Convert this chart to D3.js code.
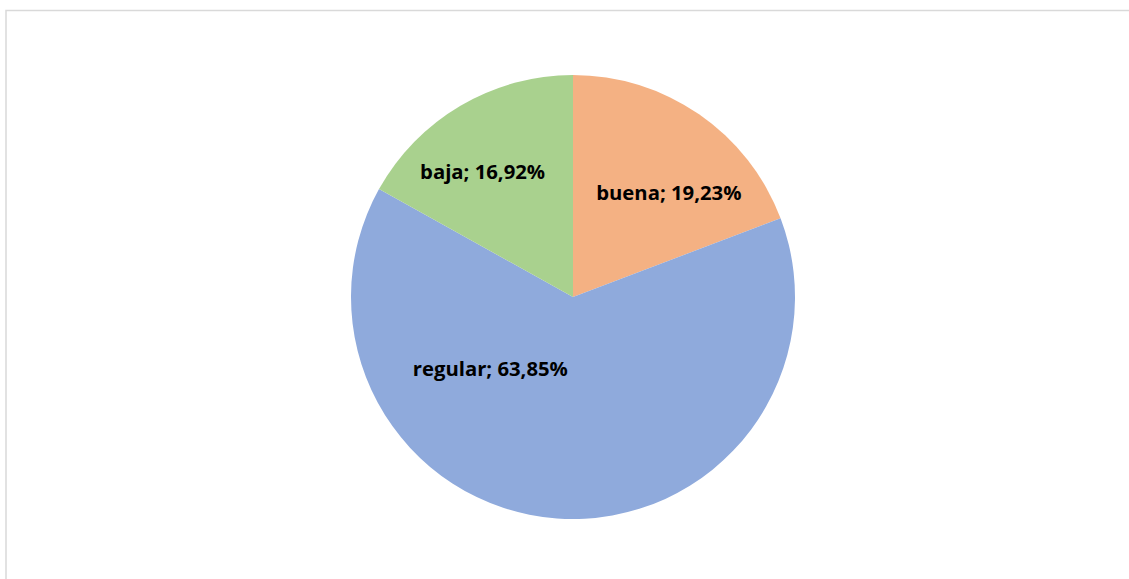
<!DOCTYPE html>
<html><head><meta charset="utf-8">
<script src="https://cdn.jsdelivr.net/npm/d3@7"></script>
<style>html,body{margin:0;padding:0;background:#fff;overflow:hidden}</style>
</head><body>
<svg id="c" width="1129" height="579"></svg>
<script>
const categories = ["buena", "regular", "baja"];
const values = [19.23, 63.85, 16.92];
const colors = ["#F4B183", "#8FAADC", "#A9D18E"];
// label placement (Excel best-fit): angle from 12 o'clock (deg) and distance as fraction of radius
const labelAngle = [42.4, 229.5, -35.7];
const labelDist = [0.64, 0.49, 0.698];

const svg = d3.select("#c");
svg.append("rect").attr("x", 6).attr("y", 10.5).attr("width", 1200).attr("height", 700)
  .attr("fill", "#fff").attr("stroke", "#d9d9d9").attr("stroke-width", 1.5);

const cx = 573, cy = 297, r = 222;
const g = svg.append("g").attr("transform", `translate(${cx},${cy})`);
const pie = d3.pie().sort(null).value(d => d)(values);
const arc = d3.arc().innerRadius(0).outerRadius(r);
g.selectAll("path").data(pie).join("path")
  .attr("d", arc).attr("fill", (d, i) => colors[i]);

const fmt = v => v.toFixed(2).replace(".", ",") + "%";
g.selectAll("text").data(pie).join("text")
  .attr("x", (d, i) => Math.sin(labelAngle[i] * Math.PI / 180) * r * labelDist[i])
  .attr("y", (d, i) => -Math.cos(labelAngle[i] * Math.PI / 180) * r * labelDist[i])
  .attr("text-anchor", "middle").attr("dominant-baseline", "central")
  .attr("font-family", "'Open Sans', sans-serif").attr("font-weight", "bold")
  .attr("font-size", 20.3).attr("fill", "#000")
  .text((d, i) => `${categories[i]}; ${fmt(values[i])}`);
</script>
</body></html>
